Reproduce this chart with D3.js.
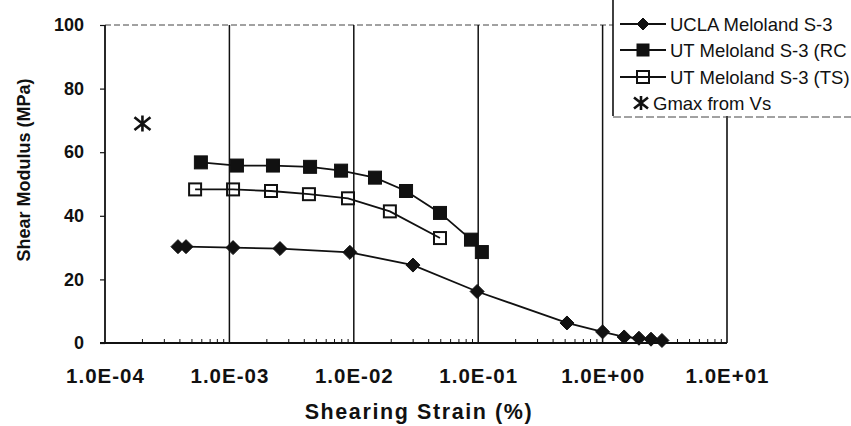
<!DOCTYPE html>
<html><head><meta charset="utf-8">
<script src="https://cdn.jsdelivr.net/npm/d3@7"></script>
<style>
html,body{margin:0;padding:0;background:#fff;}
svg{display:block;}
text{font-family:"Liberation Sans",Arial,sans-serif;fill:#111;}
</style></head>
<body>
<svg id="chart" width="851" height="426"></svg>
<script>
// ---- data ----
const xTickValues = [1e-4, 1e-3, 1e-2, 1e-1, 1e0, 1e1];
const xTickLabels = ["1.0E-04", "1.0E-03", "1.0E-02", "1.0E-01", "1.0E+00", "1.0E+01"];
const yTickValues = [0, 20, 40, 60, 80, 100];

const seriesNames = ["UCLA Meloland S-3", "UT Meloland S-3 (RC", "UT Meloland S-3 (TS)", "Gmax from Vs"];

const uclaStrain = [3.86e-4, 4.48e-4, 1.07e-3, 2.55e-3, 9.3e-3, 2.99e-2, 9.8e-2, 0.517, 1.0, 1.49, 1.96, 2.45, 3.0];
const uclaG      = [30.3, 30.3, 30.0, 29.7, 28.5, 24.5, 16.2, 6.3, 3.5, 1.9, 1.5, 1.2, 0.8];

const rcStrain = [5.9e-4, 1.15e-3, 2.24e-3, 4.45e-3, 7.9e-3, 1.48e-2, 2.63e-2, 4.93e-2, 8.75e-2, 1.07e-1];
const rcG      = [56.8, 55.8, 55.8, 55.4, 54.2, 52.0, 47.8, 40.9, 32.5, 28.6];

const tsStrain = [5.3e-4, 1.07e-3, 2.16e-3, 4.36e-3, 8.98e-3, 1.95e-2, 4.93e-2];
const tsG      = [48.3, 48.3, 47.8, 46.8, 45.5, 41.4, 33.0];

const gmaxStrain = [2.0e-4];
const gmaxG      = [69];

// ---- layout ----
const svg = d3.select("#chart");
const L = 105, R = 727, T = 25, B = 343;
const x = d3.scaleLog().domain([1e-4, 1e1]).range([L, R]);
const y = d3.scaleLinear().domain([0, 100]).range([B, T]);
const ink = "#111";

// top border (dashed, faint) and right border
svg.append("line").attr("x1", L).attr("x2", 613).attr("y1", T).attr("y2", T)
  .attr("stroke", "#444").attr("stroke-width", 1).attr("stroke-dasharray", "6,3");
svg.append("line").attr("x1", R).attr("x2", R).attr("y1", T).attr("y2", B)
  .attr("stroke", ink).attr("stroke-width", 1.6);

// vertical gridlines at decades
svg.append("g").selectAll("line").data(xTickValues.slice(1, -1)).join("line")
  .attr("x1", d => x(d)).attr("x2", d => x(d)).attr("y1", T).attr("y2", B)
  .attr("stroke", ink).attr("stroke-width", 1.5);

// minor ticks on x axis (upward)
const minor = [];
for (let e = -4; e < 1; e++) for (let m = 2; m <= 9; m++) minor.push(m * Math.pow(10, e));
svg.append("g").selectAll("line").data(minor).join("line")
  .attr("x1", d => x(d)).attr("x2", d => x(d)).attr("y1", B).attr("y2", B - 4)
  .attr("stroke", ink).attr("stroke-width", 1);

// x axis
const xAxis = d3.axisBottom(x).tickValues(xTickValues)
  .tickFormat((d, i) => xTickLabels[i]).tickSize(0).tickPadding(25);
const gx = svg.append("g").attr("transform", `translate(0,${B})`).call(xAxis);
gx.select(".domain").attr("stroke", ink).attr("stroke-width", 1.8).attr("d", `M${L - 5},0H${R}`);
gx.selectAll("text").attr("font-size", 20.5).attr("font-weight", "bold").attr("fill", ink)
  .attr("letter-spacing", 1)
  .attr("font-family", "Liberation Sans, Arial, sans-serif");

// y axis
const yAxis = d3.axisLeft(y).tickValues(yTickValues).tickSize(5).tickPadding(16);
const gy = svg.append("g").attr("transform", `translate(${L},0)`).call(yAxis);
gy.select(".domain").attr("stroke", ink).attr("stroke-width", 1.8).attr("d", `M0,${T}V${B}`);
gy.selectAll(".tick line").attr("stroke", ink).attr("stroke-width", 1.2);
gy.selectAll("text").attr("font-size", 18).attr("font-weight", "bold").attr("fill", ink)
  .attr("font-family", "Liberation Sans, Arial, sans-serif");

// axis titles
svg.append("text").attr("x", 419).attr("y", 419).attr("text-anchor", "middle")
  .attr("font-size", 21.5).attr("font-weight", "bold").attr("letter-spacing", 1.6)
  .text("Shearing Strain (%)");
svg.append("text").attr("transform", "translate(30,170) rotate(-90)").attr("text-anchor", "middle")
  .attr("font-size", 18).attr("font-weight", "bold")
  .text("Shear Modulus (MPa)");

// ---- marker shapes ----
function diamond(g, cx, cy, s) {
  g.append("path").attr("d", `M${cx},${cy - s}L${cx + s},${cy}L${cx},${cy + s}L${cx - s},${cy}Z`)
    .attr("fill", ink).attr("stroke", ink).attr("stroke-width", 1);
}
function squareFilled(g, cx, cy, s) {
  g.append("rect").attr("x", cx - s).attr("y", cy - s).attr("width", 2 * s).attr("height", 2 * s)
    .attr("fill", ink).attr("stroke", ink).attr("stroke-width", 1);
}
function squareOpen(g, cx, cy, s) {
  g.append("rect").attr("x", cx - s).attr("y", cy - s).attr("width", 2 * s).attr("height", 2 * s)
    .attr("fill", "none").attr("stroke", ink).attr("stroke-width", 2);
}
function star(g, cx, cy, s) {
  g.append("path").attr("d",
    `M${cx - s},${cy - s * 0.8}L${cx + s},${cy + s * 0.8}M${cx - s},${cy + s * 0.8}L${cx + s},${cy - s * 0.8}M${cx},${cy - s}L${cx},${cy + s}`)
    .attr("stroke", ink).attr("stroke-width", 2.6).attr("fill", "none");
}

const line = d3.line().x(d => x(d[0])).y(d => y(d[1]));
function drawSeries(xs, ys, marker, size, withLine) {
  const pts = xs.map((v, i) => [v, ys[i]]);
  const g = svg.append("g");
  if (withLine) g.append("path").datum(pts).attr("d", line)
    .attr("fill", "none").attr("stroke", ink).attr("stroke-width", 1.8);
  pts.forEach(p => marker(g, x(p[0]), y(p[1]), size));
}
drawSeries(uclaStrain, uclaG, diamond, 7, true);
drawSeries(rcStrain, rcG, squareFilled, 6.5, true);
drawSeries(tsStrain, tsG, squareOpen, 6, true);
drawSeries(gmaxStrain, gmaxG, star, 8, false);

// ---- legend ----
const lg = svg.append("g");
lg.append("rect").attr("x", 613).attr("y", -2).attr("width", 250).attr("height", 118)
  .attr("fill", "#fff").attr("stroke", "none");
lg.append("line").attr("x1", 613).attr("x2", 613).attr("y1", 0).attr("y2", 116)
  .attr("stroke", ink).attr("stroke-width", 1.6);
lg.append("line").attr("x1", 613).attr("x2", 851).attr("y1", 117).attr("y2", 117)
  .attr("stroke", "#444").attr("stroke-width", 1).attr("stroke-dasharray", "8,3");
const rowsY = [24, 50, 77, 103];
const markers = [diamond, squareFilled, squareOpen, star];
const sizes = [6, 6, 6, 7];
seriesNames.forEach((name, i) => {
  const cy = rowsY[i];
  if (i < 3) {
    lg.append("line").attr("x1", 620).attr("x2", 666).attr("y1", cy).attr("y2", cy)
      .attr("stroke", ink).attr("stroke-width", 1.8);
    markers[i](lg, 643, cy, sizes[i]);
  } else {
    markers[i](lg, 641, cy, sizes[i]);
  }
  lg.append("text").attr("x", i < 3 ? 670 : 653).attr("y", cy + 6.5)
    .attr("font-size", 18.5).text(name);
});
</script>
</body></html>
